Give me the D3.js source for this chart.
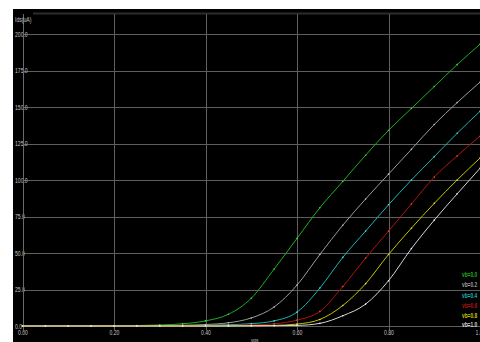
<!DOCTYPE html>
<html>
<head>
<meta charset="utf-8">
<script src="https://cdn.jsdelivr.net/npm/d3@7"></script>
<style>
  html, body { margin: 0; padding: 0; background: #ffffff; }
  svg { display: block; }
  text { font-family: "Liberation Sans", Arial, sans-serif; }
</style>
</head>
<body>
<svg id="chart" width="480" height="342"></svg>
<script>
// Gate voltage sweep (V)
const vgs = [0.00, 0.05, 0.10, 0.15, 0.20, 0.25, 0.30, 0.35, 0.40, 0.45, 0.50,
             0.55, 0.60, 0.65, 0.70, 0.75, 0.80, 0.85, 0.90, 0.95, 1.00];

// Drain current (uA) for each body bias
const idsVb00 = [0, 0, 0, 0, 0.1, 0.3, 0.7, 1.5, 3.5, 8, 19, 39, 60, 81, 99, 117, 134, 149, 164, 179, 193];
const idsVb02 = [0, 0, 0, 0, 0, 0.1, 0.2, 0.5, 1.0, 2.2, 5.5, 13, 28, 49, 69, 87, 104, 121, 138, 153, 167];
const idsVb04 = [0, 0, 0, 0, 0, 0, 0, 0.2, 0.5, 0.9, 1.6, 3.5, 9.5, 26, 47, 65, 83, 100, 116, 132, 147];
const idsVb06 = [0, 0, 0, 0, 0, 0, 0, 0, 0.2, 0.4, 0.7, 1.5, 4, 10, 27, 46.5, 65, 83.5, 102, 116.5, 130];
const idsVb08 = [0, 0, 0, 0, 0, 0, 0, 0, 0, 0.1, 0.2, 0.4, 1.3, 4.5, 14, 29, 49, 67, 84, 100, 115];
const idsVb10 = [0, 0, 0, 0, 0, 0, 0, 0, 0, 0, 0.1, 0.2, 0.4, 1.8, 7, 15, 31, 53, 72.5, 90.5, 108];

const seriesNames = ["vb=0.0", "vb=0.2", "vb=0.4", "vb=0.6", "vb=0.8", "vb=1.0"];
const seriesColors = ["#1fae1f", "#9c9c9c", "#19b4b4", "#b31212", "#c4c400", "#d4d4d4"];
const dotColors = ["#4fd84f", "#c4c4c4", "#55dede", "#e8502a", "#e4e44a", "#f4f4f4"];

const xTickValues = [0.00, 0.20, 0.40, 0.60, 0.80, 1.00];
const yTickValues = [0, 25, 50, 75, 100, 125, 150, 175, 200];
const xTitle = "vgs";
const yTitle = "Ids(uA)";

const allSeries = [idsVb00, idsVb02, idsVb04, idsVb06, idsVb08, idsVb10];

const svg = d3.select("#chart");

// squeeze a text node horizontally to a narrow face
function narrow(sel, factor) {
  sel.each(function () {
    const w = this.getComputedTextLength();
    d3.select(this).attr("textLength", w * factor).attr("lengthAdjust", "spacingAndGlyphs");
  });
}

// plot frame
svg.append("rect").attr("x", 13).attr("y", 9).attr("width", 467).attr("height", 333).attr("fill", "#000");
svg.append("rect").attr("x", 33).attr("y", 12.5).attr("width", 447).attr("height", 2).attr("fill", "#2c2c2c");

const x = d3.scaleLinear().domain([0, 1]).range([22.5, 480]);
const y = d3.scaleLinear().domain([0, 200]).range([326, 34]);

const gridColor = "#5f5f5f";
const labelColor = "#c4c4c4";

// horizontal grid + y labels
const yAxis = d3.axisLeft(y)
  .tickValues(yTickValues)
  .tickFormat(d3.format(".1f"))
  .tickSize(-(480 - 23));
const gy = svg.append("g").attr("transform", "translate(23,0)").call(yAxis);
gy.select(".domain").remove();
gy.selectAll(".tick line").attr("stroke", gridColor).attr("stroke-width", 1).attr("shape-rendering", "crispEdges");
gy.selectAll(".tick text")
  .style("fill", labelColor)
  .attr("font-size", "6.5px")
  .attr("x", -8)
  .attr("text-anchor", "start")
  .attr("dy", "0.35em")
  .call(narrow, 0.78);

// vertical grid + x labels
const xAxis = d3.axisBottom(x)
  .tickValues(xTickValues)
  .tickFormat(d3.format(".2f"))
  .tickSize(-(330 - 14));
const gx = svg.append("g").attr("transform", "translate(0,330)").call(xAxis);
gx.select(".domain").remove();
gx.selectAll(".tick line").attr("stroke", gridColor).attr("stroke-width", 1).attr("shape-rendering", "crispEdges");
gx.selectAll(".tick text")
  .style("fill", labelColor)
  .attr("font-size", "6.5px")
  .attr("y", 0.5)
  .attr("dy", "0.71em")
  .call(narrow, 0.78);

// y axis line
svg.append("line").attr("x1", 23).attr("x2", 23).attr("y1", 14).attr("y2", 332)
  .attr("stroke", "#6a6a6a").attr("stroke-width", 1).attr("shape-rendering", "crispEdges");

// axis titles
svg.append("text").attr("x", 15).attr("y", 21.5).style("fill", labelColor).attr("font-size", "6.5px")
  .text(yTitle).call(narrow, 0.78);
svg.append("text").attr("x", 251).attr("y", 342).style("fill", labelColor).attr("font-size", "6px")
  .text(xTitle).call(narrow, 0.78);

// curves
const line = d3.line()
  .x((d, i) => x(vgs[i]))
  .y(d => y(d))
  .curve(d3.curveMonotoneX);

allSeries.forEach((vals, k) => {
  const g = svg.append("g");
  g.append("path")
    .attr("d", line(vals))
    .attr("fill", "none")
    .attr("stroke", seriesColors[k])
    .attr("stroke-width", 1);
  g.selectAll("circle")
    .data(vals)
    .join("circle")
    .attr("cx", (d, i) => x(vgs[i]))
    .attr("cy", d => y(d))
    .attr("r", 0.8)
    .attr("fill", dotColors[k]);
});

// legend
const legendY = [275, 285, 295.5, 306, 315.5, 325];
seriesNames.forEach((name, k) => {
  svg.append("text")
    .attr("x", 462)
    .attr("y", legendY[k])
    .attr("dy", "0.35em")
    .style("fill", seriesColors[k])
    .attr("font-size", "6.5px")
    .attr("font-weight", "bold")
    .text(name)
    .call(narrow, 0.74);
});
</script>
</body>
</html>
